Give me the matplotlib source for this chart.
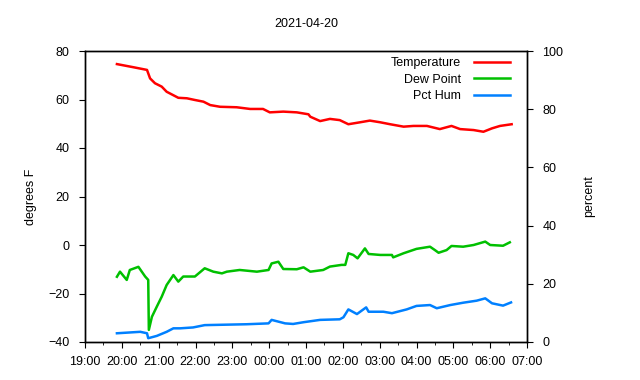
#!/usr/bin/env python3

import pandas as pd
import matplotlib
matplotlib.use("Agg")
import matplotlib.pyplot as plt
import matplotlib.dates as mdates

plt.rcParams["font.family"] = ["Liberation Sans", "DejaVu Sans"]
plt.rcParams["font.size"] = 9

DAY = "2021-04-20"

# readings, times are HH:MM starting the evening of DAY
temp_times = ["19:52", "20:19", "20:41", "20:46", "20:54", "21:05", "21:13", "21:32",
              "21:46", "21:59", "22:13", "22:24", "22:40", "23:07", "23:29", "23:50",
              "00:01", "00:23", "00:45", "01:04", "01:07", "01:23", "01:39", "01:55",
              "02:09", "02:28", "02:44", "03:01", "03:17", "03:39", "03:55", "04:17",
              "04:38", "04:57", "05:11", "05:33", "05:49", "06:03", "06:16", "06:35"]
temp_f = [74.6, 73.3, 72.2, 68.7, 66.7, 65.3, 63.2, 60.7,
          60.5, 59.8, 59.1, 57.7, 57.0, 56.8, 56.1, 56.1,
          54.7, 55.0, 54.7, 53.9, 52.9, 51.1, 52.0, 51.5,
          49.8, 50.6, 51.3, 50.6, 49.8, 48.8, 49.1, 49.1,
          47.8, 49.1, 47.8, 47.4, 46.7, 48.1, 49.1, 49.8]

dew_times = ["19:52", "19:57", "20:08", "20:13", "20:27", "20:38", "20:43", "20:44",
             "20:49", "20:57", "21:05", "21:13", "21:24", "21:32", "21:40", "21:59",
             "22:15", "22:29", "22:43", "22:51", "23:12", "23:40", "23:59", "00:04",
             "00:15", "00:23", "00:45", "00:56", "01:07", "01:28", "01:39", "01:58",
             "02:04", "02:09", "02:17", "02:24", "02:36", "02:42", "03:01", "03:20",
             "03:22", "03:39", "04:00", "04:22", "04:30", "04:36", "04:49", "04:57",
             "05:16", "05:33", "05:52", "06:00", "06:21", "06:32"]
dew_f = [-13.1, -11.0, -14.4, -10.3, -9.0, -13.0, -14.4, -35.0,
         -29.6, -25.4, -21.3, -16.5, -12.4, -15.1, -13.0, -13.0,
         -9.6, -11.0, -11.7, -11.0, -10.3, -11.0, -10.3, -7.6,
         -6.9, -9.9, -10.0, -9.2, -11.0, -10.3, -8.9, -8.2,
         -8.2, -3.4, -4.1, -5.5, -1.4, -3.7, -4.1, -4.1,
         -5.1, -3.4, -1.6, -0.7, -2.1, -3.2, -2.1, -0.4,
         -0.7, 0.0, 1.4, 0.0, -0.3, 1.1]

hum_times = ["19:52", "20:30", "20:41", "20:43", "20:57", "21:13", "21:24", "21:35",
             "21:56", "22:15", "23:23", "23:59", "00:04", "00:26", "00:39", "00:56",
             "01:23", "01:55", "02:01", "02:09", "02:23", "02:38", "02:42", "03:06",
             "03:20", "03:44", "04:00", "04:22", "04:33", "04:55", "05:16", "05:38",
             "05:52", "06:03", "06:21", "06:34"]
hum_pct = [3.0, 3.5, 3.0, 1.3, 2.1, 3.5, 4.7, 4.7,
           5.0, 5.8, 6.1, 6.4, 7.6, 6.4, 6.2, 6.8,
           7.6, 7.8, 8.5, 11.2, 9.6, 11.9, 10.4, 10.4,
           9.9, 11.2, 12.4, 12.7, 11.6, 12.7, 13.5, 14.2,
           15.0, 13.3, 12.5, 13.6]


def to_datetime(times):
    base = pd.Timestamp(DAY)
    out = []
    for t in times:
        ts = pd.Timestamp(f"{DAY} {t}")
        if ts.hour < 12:
            ts += pd.Timedelta(days=1)
        out.append(ts)
    return out


def main():
    fig = plt.figure(figsize=(6.4, 3.8), dpi=100)
    ax = fig.add_axes([85 / 640, 38 / 380, 442 / 640, 291 / 380])
    ax2 = ax.twinx()

    l1, = ax.plot(to_datetime(temp_times), temp_f, color="#ff0000", lw=1.8)
    l2, = ax.plot(to_datetime(dew_times), dew_f, color="#00c000", lw=1.8)
    l3, = ax2.plot(to_datetime(hum_times), hum_pct, color="#0080ff", lw=1.8)

    start = pd.Timestamp(f"{DAY} 19:00")
    ax.set_xlim(start, start + pd.Timedelta(hours=12))
    ax.set_ylim(-40, 80)
    ax2.set_ylim(0, 100)
    ax.set_yticks(range(-40, 81, 20))
    ax2.set_yticks(range(0, 101, 20))

    ax.xaxis.set_major_locator(mdates.HourLocator())
    ax.xaxis.set_minor_locator(mdates.MinuteLocator(byminute=[30]))
    ax.xaxis.set_major_formatter(mdates.DateFormatter("%H:%M"))

    ax.tick_params(axis="x", which="major", direction="out", length=4, pad=6, top=False)
    ax.tick_params(axis="x", which="minor", direction="out", length=2, top=False)
    ax.tick_params(axis="y", direction="out", length=4, pad=7, right=False)
    ax2.tick_params(axis="y", direction="out", length=4, pad=7)

    for a in (ax, ax2):
        for s in a.spines.values():
            s.set_linewidth(1.0)

    ax.set_ylabel("degrees F", labelpad=8)
    ax2.set_ylabel("percent", labelpad=14)
    ax.set_title("2021-04-20", pad=17, fontsize=9)

    ax2.legend([l1, l2, l3], ["Temperature", "Dew Point", "Pct Hum"],
               loc="upper right", bbox_to_anchor=(0.9615, 0.979),
               markerfirst=False, frameon=False, borderaxespad=0, borderpad=0,
               handlelength=2.9, handletextpad=1.0, labelspacing=0.36)

    fig.savefig("out.png", dpi=100)


if __name__ == "__main__":
    main()
